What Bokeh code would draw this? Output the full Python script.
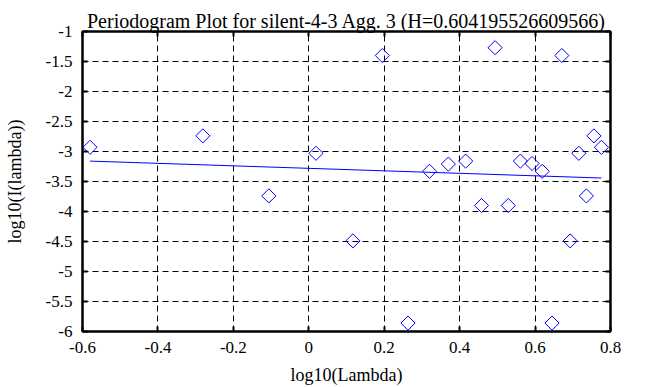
import numpy as np
from bokeh.plotting import figure
from bokeh.models import LinearAxis, FixedTicker, Range1d
from bokeh.embed import file_html
from bokeh.resources import INLINE

# periodogram points (log10 lambda, log10 I(lambda))
log_lambda = [-0.58, -0.281, -0.106, 0.019, 0.117, 0.195, 0.263, 0.320, 0.370,
              0.416, 0.458, 0.494, 0.529, 0.561, 0.592, 0.619, 0.645, 0.671,
              0.693, 0.716, 0.736, 0.756, 0.776]
log_power = [-2.93, -2.74, -3.74, -3.03, -4.49, -1.40, -5.86, -3.33, -3.21,
             -3.16, -3.90, -1.27, -3.90, -3.16, -3.20, -3.33, -5.86, -1.40,
             -4.49, -3.03, -3.74, -2.74, -2.93]
# fitted regression line endpoints
fit_x = [-0.58, 0.776]
fit_y = [-3.160, -3.442]

x_ticks = [-0.6, -0.4, -0.2, 0, 0.2, 0.4, 0.6, 0.8]
x_tick_labels = ["-0.6", "-0.4", "-0.2", "0", "0.2", "0.4", "0.6", "0.8"]
y_ticks = [-6, -5.5, -5, -4.5, -4, -3.5, -3, -2.5, -2, -1.5, -1]
y_tick_labels = ["-6", "-5.5", "-5", "-4.5", "-4", "-3.5", "-3", "-2.5", "-2", "-1.5", "-1"]

title_text = "Periodogram Plot for silent-4-3 Agg. 3 (H=0.604195526609566)"
FONT = "Liberation Serif"

p = figure(width=653, height=387, output_backend="svg", toolbar_location=None,
           x_range=Range1d(-0.6, 0.8), y_range=Range1d(-6, -1),
           x_axis_label="log10(Lambda)", y_axis_label="log10(I(lambda))",
           title=title_text,
           min_border_left=82, min_border_right=43, min_border_top=31, min_border_bottom=56)
p.background_fill_color = "white"
p.border_fill_color = "white"

p.title.text_font = FONT
p.title.text_font_size = "20px"
p.title.text_font_style = "normal"
p.title.text_color = "black"
p.title.align = "center"
p.title.standoff = 0
p.title.offset = 0

p.outline_line_color = "black"
p.outline_line_width = 2
p.outline_line_alpha = 1

xt = FixedTicker(ticks=x_ticks)
yt = FixedTicker(ticks=y_ticks)
for ax, tk, labels in ((p.xaxis[0], xt, x_tick_labels), (p.yaxis[0], yt, y_tick_labels)):
    ax.ticker = tk
    ax.major_label_overrides = {t: l for t, l in zip(tk.ticks, labels)}
    ax.axis_line_width = 2
    ax.axis_line_color = "black"
    ax.major_tick_in = 5
    ax.major_tick_out = 0
    ax.major_tick_line_width = 2
    ax.minor_tick_line_color = None
    ax.major_label_text_font = FONT
    ax.major_label_text_font_size = "17px"
    ax.major_label_text_color = "black"
    ax.axis_label_text_font = FONT
    ax.axis_label_text_font_size = "18px"
    ax.axis_label_text_font_style = "normal"
    ax.axis_label_text_color = "black"
p.xaxis[0].major_label_standoff = 10
p.xaxis[0].axis_label_standoff = 9
p.yaxis[0].major_label_standoff = 10
p.yaxis[0].axis_label_standoff = 18

for loc, tk in (("right", yt), ("above", xt)):
    ax = LinearAxis(ticker=tk, major_label_text_color=None, major_label_text_font_size="1px",
                    major_label_standoff=0,
                    major_tick_in=5, major_tick_out=0, major_tick_line_width=2,
                    minor_tick_line_color=None, axis_line_width=2, axis_line_color="black")
    ax.major_label_overrides = {t: "" for t in tk.ticks}
    p.add_layout(ax, loc)

for g, tk in ((p.xgrid[0], xt), (p.ygrid[0], yt)):
    g.ticker = tk
    g.grid_line_color = "black"
    g.grid_line_dash = "6 4"
    g.grid_line_width = 1

p.line(fit_x, fit_y, line_color="#0000ff", line_width=1)
p.scatter(log_lambda, log_power, marker="square", angle=np.pi / 4, size=10,
          fill_color=None, line_color="#0000ff", line_width=1)

open("out.html", "w").write(file_html(p, INLINE))
